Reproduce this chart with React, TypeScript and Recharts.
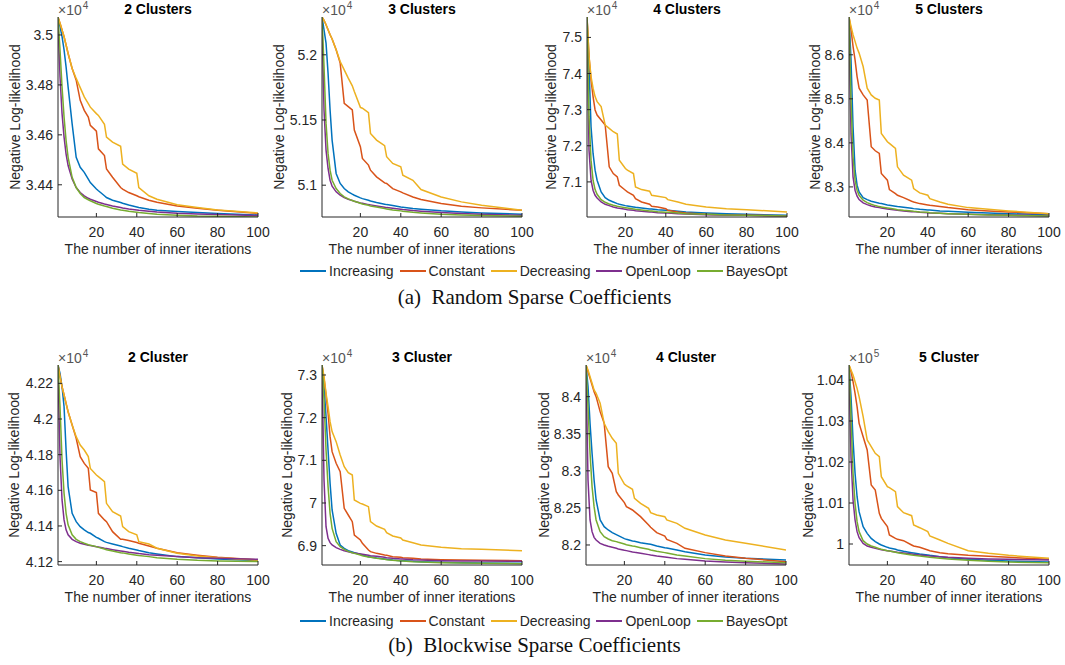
import React from 'react';
import { LineChart, Line, XAxis, YAxis } from 'recharts';

// ---------- shared data ----------
const X = [1, 2, 3, 4, 5, 6, 8, 10, 12, 14, 16, 17, 20, 21, 24, 25, 28, 32, 33, 36, 40, 41, 46, 50, 60, 70, 80, 100];
const X_TICKS = [20, 40, 60, 80, 100];
const SERIES_NAMES = ['Increasing', 'Constant', 'Decreasing', 'OpenLoop', 'BayesOpt'];
const COLORS = ['#0072BD', '#D95319', '#EDB120', '#7E2F8E', '#77AC30'];

// ---------- (a) Random Sparse Coefficients ----------
// 2 Clusters (x1e4)
const rs2Inc = [3.5071, 3.5034, 3.4993, 3.4940, 3.4872, 3.4792, 3.4644, 3.4510, 3.4470, 3.4450, 3.4423, 3.4409, 3.4383, 3.4376, 3.4356, 3.4349, 3.4338, 3.4329, 3.4326, 3.4319, 3.4311, 3.4309, 3.4302, 3.4298, 3.4293, 3.4289, 3.4285, 3.4279];
const rs2Con = [3.5071, 3.5047, 3.5020, 3.4993, 3.4960, 3.4926, 3.4866, 3.4819, 3.4738, 3.4698, 3.4671, 3.4638, 3.4615, 3.4544, 3.4517, 3.4463, 3.4430, 3.4389, 3.4383, 3.4369, 3.4356, 3.4352, 3.4338, 3.4330, 3.4315, 3.4306, 3.4298, 3.4285];
const rs2Dec = [3.5071, 3.5047, 3.5020, 3.4993, 3.4960, 3.4926, 3.4866, 3.4826, 3.4789, 3.4752, 3.4725, 3.4711, 3.4685, 3.4678, 3.4642, 3.4591, 3.4571, 3.4554, 3.4483, 3.4463, 3.4446, 3.4389, 3.4356, 3.4342, 3.4320, 3.4309, 3.4299, 3.4287];
const rs2Open = [3.5060, 3.4832, 3.4685, 3.4591, 3.4523, 3.4477, 3.4423, 3.4389, 3.4369, 3.4356, 3.4346, 3.4342, 3.4333, 3.4330, 3.4323, 3.4321, 3.4315, 3.4309, 3.4307, 3.4303, 3.4299, 3.4298, 3.4294, 3.4291, 3.4286, 3.4283, 3.4281, 3.4277];
const rs2Bayes = [3.5071, 3.4940, 3.4792, 3.4671, 3.4577, 3.4510, 3.4430, 3.4389, 3.4365, 3.4349, 3.4340, 3.4336, 3.4325, 3.4322, 3.4315, 3.4313, 3.4306, 3.4299, 3.4298, 3.4294, 3.4290, 3.4289, 3.4285, 3.4282, 3.4278, 3.4275, 3.4274, 3.4271];

// 3 Clusters (x1e4)
const rs3Inc = [5.2290, 5.2192, 5.2090, 5.1859, 5.1577, 5.1346, 5.1090, 5.1013, 5.0974, 5.0949, 5.0931, 5.0923, 5.0903, 5.0897, 5.0885, 5.0879, 5.0867, 5.0854, 5.0851, 5.0844, 5.0833, 5.0831, 5.0821, 5.0815, 5.0803, 5.0795, 5.0787, 5.0777];
const rs3Con = [5.2290, 5.2264, 5.2231, 5.2192, 5.2154, 5.2121, 5.2038, 5.1936, 5.1628, 5.1603, 5.1577, 5.1423, 5.1295, 5.1205, 5.1154, 5.1115, 5.1064, 5.1018, 5.1013, 5.0974, 5.0949, 5.0941, 5.0910, 5.0890, 5.0859, 5.0838, 5.0826, 5.0808];
const rs3Dec = [5.2290, 5.2264, 5.2231, 5.2192, 5.2154, 5.2121, 5.2038, 5.1949, 5.1885, 5.1821, 5.1762, 5.1718, 5.1597, 5.1590, 5.1556, 5.1397, 5.1346, 5.1303, 5.1218, 5.1167, 5.1141, 5.1077, 5.1038, 5.0967, 5.0910, 5.0872, 5.0846, 5.0808];
const rs3Open = [5.2269, 5.1577, 5.1269, 5.1128, 5.1038, 5.0992, 5.0949, 5.0923, 5.0905, 5.0892, 5.0882, 5.0877, 5.0864, 5.0862, 5.0851, 5.0849, 5.0841, 5.0831, 5.0828, 5.0823, 5.0815, 5.0813, 5.0805, 5.0800, 5.0790, 5.0782, 5.0777, 5.0769];
const rs3Bayes = [5.2290, 5.1910, 5.1474, 5.1244, 5.1115, 5.1038, 5.0974, 5.0936, 5.0910, 5.0895, 5.0882, 5.0877, 5.0862, 5.0856, 5.0846, 5.0841, 5.0833, 5.0821, 5.0818, 5.0810, 5.0803, 5.0800, 5.0792, 5.0787, 5.0777, 5.0772, 5.0767, 5.0762];

// 4 Clusters (x1e4)
const rs4Inc = [7.5565, 7.4194, 7.2528, 7.1787, 7.1324, 7.1046, 7.0722, 7.0565, 7.0491, 7.0444, 7.0398, 7.0380, 7.0343, 7.0333, 7.0306, 7.0296, 7.0278, 7.0250, 7.0250, 7.0231, 7.0213, 7.0213, 7.0185, 7.0167, 7.0139, 7.0120, 7.0102, 7.0074];
const rs4Con = [7.5565, 7.4472, 7.3824, 7.3361, 7.2991, 7.2852, 7.2713, 7.2574, 7.1417, 7.1231, 7.1139, 7.0907, 7.0769, 7.0722, 7.0630, 7.0537, 7.0444, 7.0380, 7.0324, 7.0306, 7.0259, 7.0213, 7.0167, 7.0139, 7.0102, 7.0083, 7.0074, 7.0065];
const rs4Dec = [7.5565, 7.4472, 7.3917, 7.3593, 7.3361, 7.3222, 7.3083, 7.2574, 7.2481, 7.2389, 7.2324, 7.1602, 7.1370, 7.1324, 7.1231, 7.0861, 7.0787, 7.0741, 7.0630, 7.0602, 7.0565, 7.0509, 7.0444, 7.0380, 7.0306, 7.0259, 7.0231, 7.0167];
const rs4Open = [7.5491, 7.1880, 7.1046, 7.0769, 7.0630, 7.0556, 7.0444, 7.0380, 7.0343, 7.0306, 7.0278, 7.0269, 7.0241, 7.0231, 7.0213, 7.0204, 7.0185, 7.0167, 7.0167, 7.0148, 7.0139, 7.0139, 7.0120, 7.0111, 7.0093, 7.0083, 7.0074, 7.0056];
const rs4Bayes = [7.5565, 7.2806, 7.1602, 7.1046, 7.0787, 7.0657, 7.0509, 7.0435, 7.0389, 7.0352, 7.0324, 7.0315, 7.0287, 7.0278, 7.0250, 7.0241, 7.0222, 7.0194, 7.0194, 7.0176, 7.0157, 7.0157, 7.0139, 7.0120, 7.0102, 7.0083, 7.0074, 7.0056];

// 5 Clusters (x1e4)
const rs5Inc = [8.6858, 8.5886, 8.4367, 8.3380, 8.3039, 8.2887, 8.2758, 8.2712, 8.2674, 8.2651, 8.2629, 8.2621, 8.2591, 8.2583, 8.2560, 8.2553, 8.2537, 8.2515, 8.2507, 8.2492, 8.2477, 8.2477, 8.2454, 8.2446, 8.2424, 8.2408, 8.2393, 8.2370];
const rs5Con = [8.6858, 8.6569, 8.6190, 8.5886, 8.5506, 8.5241, 8.5089, 8.4975, 8.3912, 8.3821, 8.3760, 8.3304, 8.3153, 8.2940, 8.2849, 8.2811, 8.2758, 8.2674, 8.2659, 8.2621, 8.2591, 8.2583, 8.2553, 8.2530, 8.2484, 8.2454, 8.2431, 8.2393];
const rs5Dec = [8.6858, 8.6646, 8.6456, 8.6304, 8.6152, 8.6038, 8.5734, 8.5241, 8.5089, 8.5013, 8.4975, 8.4215, 8.4026, 8.3988, 8.3874, 8.3456, 8.3267, 8.3153, 8.2963, 8.2864, 8.2811, 8.2735, 8.2659, 8.2606, 8.2530, 8.2492, 8.2454, 8.2393];
const rs5Open = [8.6797, 8.4215, 8.3229, 8.2925, 8.2788, 8.2712, 8.2636, 8.2598, 8.2568, 8.2545, 8.2530, 8.2522, 8.2500, 8.2492, 8.2477, 8.2469, 8.2454, 8.2439, 8.2439, 8.2424, 8.2416, 8.2408, 8.2401, 8.2393, 8.2378, 8.2370, 8.2363, 8.2347];
const rs5Bayes = [8.6858, 8.4975, 8.3684, 8.3153, 8.2925, 8.2811, 8.2697, 8.2644, 8.2606, 8.2576, 8.2553, 8.2545, 8.2522, 8.2515, 8.2492, 8.2484, 8.2469, 8.2454, 8.2446, 8.2431, 8.2424, 8.2416, 8.2401, 8.2393, 8.2378, 8.2363, 8.2355, 8.2340];

// ---------- (b) Blockwise Sparse Coefficients ----------
// 2 Cluster (x1e4)
const bs2Inc = [4.2303, 4.2256, 4.2181, 4.2069, 4.1826, 4.1621, 4.1471, 4.1424, 4.1396, 4.1378, 4.1363, 4.1359, 4.1336, 4.1331, 4.1312, 4.1308, 4.1299, 4.1288, 4.1284, 4.1275, 4.1265, 4.1262, 4.1250, 4.1243, 4.1228, 4.1221, 4.1215, 4.1206];
const bs2Con = [4.2303, 4.2237, 4.2181, 4.2135, 4.2088, 4.2041, 4.1966, 4.1892, 4.1789, 4.1751, 4.1723, 4.1602, 4.1587, 4.1471, 4.1434, 4.1424, 4.1368, 4.1325, 4.1325, 4.1318, 4.1307, 4.1303, 4.1288, 4.1275, 4.1250, 4.1236, 4.1224, 4.1209];
const bs2Dec = [4.2303, 4.2237, 4.2181, 4.2135, 4.2088, 4.2041, 4.1966, 4.1901, 4.1854, 4.1826, 4.1789, 4.1723, 4.1686, 4.1677, 4.1649, 4.1527, 4.1480, 4.1456, 4.1396, 4.1368, 4.1350, 4.1312, 4.1299, 4.1275, 4.1247, 4.1232, 4.1222, 4.1209];
const bs2Open = [4.2284, 4.1789, 4.1546, 4.1434, 4.1378, 4.1350, 4.1325, 4.1312, 4.1303, 4.1297, 4.1292, 4.1290, 4.1284, 4.1282, 4.1275, 4.1273, 4.1267, 4.1260, 4.1258, 4.1252, 4.1247, 4.1245, 4.1239, 4.1236, 4.1228, 4.1222, 4.1219, 4.1213];
const bs2Bayes = [4.2303, 4.2069, 4.1770, 4.1583, 4.1471, 4.1406, 4.1350, 4.1325, 4.1312, 4.1303, 4.1295, 4.1292, 4.1284, 4.1280, 4.1271, 4.1267, 4.1260, 4.1250, 4.1249, 4.1243, 4.1236, 4.1234, 4.1228, 4.1222, 4.1213, 4.1207, 4.1204, 4.1200];

// 3 Cluster (x1e4)
const bs3Inc = [7.3234, 7.2727, 7.2023, 7.1242, 7.0461, 6.9836, 6.9289, 6.9016, 6.8938, 6.8883, 6.8852, 6.8836, 6.8797, 6.8781, 6.8742, 6.8734, 6.8711, 6.8688, 6.8680, 6.8664, 6.8648, 6.8648, 6.8633, 6.8625, 6.8609, 6.8602, 6.8594, 6.8586];
const bs3Con = [7.3234, 7.2922, 7.2531, 7.2102, 7.1555, 7.1203, 7.0930, 7.0734, 6.9875, 6.9719, 6.9563, 6.9250, 6.9133, 6.9055, 6.8898, 6.8859, 6.8820, 6.8781, 6.8773, 6.8742, 6.8727, 6.8719, 6.8703, 6.8688, 6.8672, 6.8664, 6.8656, 6.8648];
const bs3Dec = [7.3234, 7.2961, 7.2570, 7.2258, 7.1906, 7.1672, 7.1438, 7.1125, 7.0852, 7.0711, 7.0656, 7.0070, 6.9992, 6.9977, 6.9914, 6.9563, 6.9461, 6.9383, 6.9305, 6.9227, 6.9180, 6.9133, 6.9070, 6.9016, 6.8961, 6.8930, 6.8914, 6.8883];
const bs3Open = [7.3195, 7.0539, 6.9445, 6.9172, 6.9070, 6.9016, 6.8953, 6.8914, 6.8883, 6.8859, 6.8836, 6.8828, 6.8805, 6.8797, 6.8773, 6.8766, 6.8750, 6.8727, 6.8719, 6.8703, 6.8688, 6.8688, 6.8672, 6.8664, 6.8648, 6.8641, 6.8641, 6.8633];
const bs3Bayes = [7.3234, 7.2414, 7.1242, 7.0383, 6.9758, 6.9406, 6.9094, 6.8977, 6.8914, 6.8867, 6.8836, 6.8820, 6.8781, 6.8766, 6.8734, 6.8727, 6.8703, 6.8680, 6.8672, 6.8656, 6.8641, 6.8641, 6.8625, 6.8617, 6.8602, 6.8594, 6.8586, 6.8578];

// 4 Cluster (x1e4)
const bs4Inc = [8.4427, 8.4135, 8.3640, 8.3236, 8.2876, 8.2607, 8.2337, 8.2247, 8.2202, 8.2166, 8.2139, 8.2126, 8.2085, 8.2076, 8.2054, 8.2049, 8.2031, 8.2013, 8.2009, 8.1987, 8.1964, 8.1960, 8.1933, 8.1910, 8.1865, 8.1838, 8.1820, 8.1798];
const bs4Con = [8.4427, 8.4337, 8.4247, 8.4157, 8.4067, 8.4000, 8.3798, 8.3640, 8.3056, 8.2966, 8.2719, 8.2674, 8.2571, 8.2517, 8.2472, 8.2449, 8.2382, 8.2270, 8.2238, 8.2166, 8.2121, 8.2076, 8.2022, 8.1955, 8.1897, 8.1852, 8.1820, 8.1775];
const bs4Dec = [8.4427, 8.4360, 8.4270, 8.4180, 8.4090, 8.4045, 8.3910, 8.3640, 8.3528, 8.3438, 8.3371, 8.2966, 8.2822, 8.2800, 8.2751, 8.2629, 8.2562, 8.2494, 8.2436, 8.2404, 8.2382, 8.2337, 8.2292, 8.2225, 8.2135, 8.2067, 8.2022, 8.1933];
const bs4Open = [8.4404, 8.2876, 8.2337, 8.2180, 8.2103, 8.2067, 8.2022, 8.2000, 8.1982, 8.1969, 8.1955, 8.1946, 8.1928, 8.1924, 8.1906, 8.1901, 8.1888, 8.1870, 8.1865, 8.1852, 8.1838, 8.1834, 8.1816, 8.1807, 8.1784, 8.1771, 8.1762, 8.1744];
const bs4Bayes = [8.4427, 8.3865, 8.3236, 8.2787, 8.2517, 8.2337, 8.2180, 8.2112, 8.2081, 8.2058, 8.2045, 8.2036, 8.2013, 8.2004, 8.1987, 8.1982, 8.1964, 8.1942, 8.1933, 8.1915, 8.1897, 8.1892, 8.1865, 8.1852, 8.1816, 8.1793, 8.1780, 8.1762];

// 5 Cluster (x1e5)
const bs5Inc = [1.04366, 1.03593, 1.02537, 1.01724, 1.01154, 1.00789, 1.00423, 1.00260, 1.00138, 1.00057, 1.00000, 0.99976, 0.99919, 0.99902, 0.99870, 0.99854, 0.99821, 0.99789, 0.99780, 0.99756, 0.99732, 0.99724, 0.99691, 0.99667, 0.99626, 0.99602, 0.99585, 0.99561];
const bs5Con = [1.04366, 1.04203, 1.03959, 1.03675, 1.03350, 1.02943, 1.02618, 1.02293, 1.01439, 1.01317, 1.00748, 1.00626, 1.00423, 1.00220, 1.00138, 1.00114, 1.00081, 0.99976, 0.99951, 0.99919, 0.99854, 0.99837, 0.99789, 0.99764, 0.99724, 0.99699, 0.99675, 0.99626];
const bs5Dec = [1.04366, 1.04244, 1.04122, 1.03959, 1.03797, 1.03593, 1.03106, 1.02537, 1.02374, 1.02211, 1.02130, 1.01642, 1.01398, 1.01374, 1.01276, 1.00911, 1.00764, 1.00691, 1.00463, 1.00398, 1.00301, 1.00195, 1.00098, 1.00016, 0.99837, 0.99772, 0.99724, 0.99650];
const bs5Open = [1.04325, 1.02130, 1.01073, 1.00585, 1.00301, 1.00154, 1.00016, 0.99951, 0.99919, 0.99894, 0.99870, 0.99862, 0.99837, 0.99829, 0.99805, 0.99797, 0.99780, 0.99756, 0.99748, 0.99732, 0.99715, 0.99707, 0.99691, 0.99675, 0.99650, 0.99634, 0.99626, 0.99610];
const bs5Bayes = [1.04366, 1.03106, 1.01724, 1.00992, 1.00545, 1.00301, 1.00081, 1.00000, 0.99951, 0.99919, 0.99886, 0.99870, 0.99837, 0.99829, 0.99797, 0.99789, 0.99764, 0.99732, 0.99724, 0.99707, 0.99683, 0.99675, 0.99650, 0.99634, 0.99602, 0.99577, 0.99561, 0.99545];

// tick labels
const rs2Ticks = [3.44, 3.46, 3.48, 3.5];
const rs3Ticks = [5.1, 5.15, 5.2];
const rs4Ticks = [7.1, 7.2, 7.3, 7.4, 7.5];
const rs5Ticks = [8.3, 8.4, 8.5, 8.6];
const bs2Ticks = [4.12, 4.14, 4.16, 4.18, 4.2, 4.22];
const bs3Ticks = [6.9, 7, 7.1, 7.2, 7.3];
const bs4Ticks = [8.2, 8.25, 8.3, 8.35, 8.4];
const bs5Ticks = [1, 1.01, 1.02, 1.03, 1.04];

// ---------- layout ----------
const AX = '#262626';
const FONT = '"Liberation Sans", Arial, Helvetica, sans-serif';
const PW = 200;
const PH = 200;
const ML = 60;
const MT = 20;
const MR = 24;

const panels = [
  { title: '2 Clusters', exp: '4', left: 58, top: 17, domain: [3.4271, 3.5072], ticks: rs2Ticks, series: [rs2Inc, rs2Con, rs2Dec, rs2Open, rs2Bayes], ylx: 15 },
  { title: '3 Clusters', exp: '4', left: 322, top: 17, domain: [5.0756, 5.2290], ticks: rs3Ticks, series: [rs3Inc, rs3Con, rs3Dec, rs3Open, rs3Bayes], ylx: 279 },
  { title: '4 Clusters', exp: '4', left: 587, top: 17, domain: [7.0028, 7.5565], ticks: rs4Ticks, series: [rs4Inc, rs4Con, rs4Dec, rs4Open, rs4Bayes], ylx: 551 },
  { title: '5 Clusters', exp: '4', left: 849, top: 17, domain: [8.2317, 8.6858], ticks: rs5Ticks, series: [rs5Inc, rs5Con, rs5Dec, rs5Open, rs5Bayes], ylx: 815 },
  { title: '2 Cluster', exp: '4', left: 58, top: 365, domain: [4.1181, 4.2303], ticks: bs2Ticks, series: [bs2Inc, bs2Con, bs2Dec, bs2Open, bs2Bayes], ylx: 14 },
  { title: '3 Cluster', exp: '4', left: 322, top: 365, domain: [6.8547, 7.3234], ticks: bs3Ticks, series: [bs3Inc, bs3Con, bs3Dec, bs3Open, bs3Bayes], ylx: 287 },
  { title: '4 Cluster', exp: '4', left: 586, top: 365, domain: [8.1730, 8.4427], ticks: bs4Ticks, series: [bs4Inc, bs4Con, bs4Dec, bs4Open, bs4Bayes], ylx: 544 },
  { title: '5 Cluster', exp: '5', left: 849, top: 365, domain: [0.99488, 1.04366], ticks: bs5Ticks, series: [bs5Inc, bs5Con, bs5Dec, bs5Open, bs5Bayes], ylx: 808 },
];

const fmt = (v: number) => String(parseFloat(Number(v).toFixed(4)));

const LeftTick = (p: any) => (
  <g>
    <line x1={p.x} x2={p.x + 4} y1={p.y} y2={p.y} stroke={AX} strokeWidth={1} />
    <text x={p.x - 5} y={p.y + 5} textAnchor="end" fontSize={14} fill={AX} fontFamily={FONT}>
      {fmt(p.payload.value)}
    </text>
  </g>
);
const RightTick = (p: any) => (
  <line x1={p.x} x2={p.x - 4} y1={p.y} y2={p.y} stroke={AX} strokeWidth={1} />
);
const BottomTick = (p: any) => (
  <g>
    <line x1={p.x} x2={p.x} y1={p.y} y2={p.y - 4} stroke={AX} strokeWidth={1} />
    <text x={p.x} y={p.y + 20} textAnchor="middle" fontSize={14} fill={AX} fontFamily={FONT}>
      {fmt(p.payload.value)}
    </text>
  </g>
);
const TopTick = (p: any) => (
  <line x1={p.x} x2={p.x} y1={p.y} y2={p.y + 4} stroke={AX} strokeWidth={1} />
);

function Panel({ p }: { p: any }) {
  const data = X.map((x, i) => {
    const row: any = { x };
    p.series.forEach((s: number[], j: number) => {
      row['s' + j] = s[i];
    });
    return row;
  });
  const cx = p.left + PW / 2;
  return (
    <>
      <div style={{ position: 'absolute', left: p.left - ML, top: p.top - MT }}>
        <LineChart width={ML + PW + MR} height={MT + PH + 40} data={data} margin={{ top: MT, right: MR, bottom: 0, left: 0 }}>
          <XAxis dataKey="x" type="number" domain={[1, 100]} ticks={X_TICKS} interval={0} allowDataOverflow height={40}
            tickSize={0} tickMargin={0} tickLine={false} stroke={AX} tick={BottomTick} />
          <XAxis xAxisId="t" orientation="top" dataKey="x" type="number" domain={[1, 100]} ticks={X_TICKS} interval={0}
            allowDataOverflow height={0} tickSize={0} tickMargin={0} tickLine={false} stroke={AX} tick={TopTick} />
          <YAxis type="number" domain={p.domain} ticks={p.ticks} interval={0} allowDataOverflow width={ML}
            tickSize={0} tickMargin={0} tickLine={false} stroke={AX} tick={LeftTick} />
          <YAxis yAxisId="r" orientation="right" type="number" domain={p.domain} ticks={p.ticks} interval={0}
            allowDataOverflow width={0} tickSize={0} tickMargin={0} tickLine={false} stroke={AX} tick={RightTick} />
          {p.series.map((_: number[], j: number) => (
            <Line key={j} type="linear" dataKey={'s' + j} stroke={COLORS[j]} strokeWidth={1.5} dot={false}
              activeDot={false} isAnimationActive={false} />
          ))}
        </LineChart>
      </div>
      {/* title */}
      <div style={{ position: 'absolute', left: cx - 100, width: 200, top: p.top - 16, height: 16, lineHeight: '16px',
        textAlign: 'center', fontWeight: 'bold', fontSize: 14, color: '#000', fontFamily: FONT }}>{p.title}</div>
      {/* exponent */}
      <div style={{ position: 'absolute', left: p.left, top: p.top - 14, height: 14, lineHeight: '14px',
        fontSize: 14, color: '#555', fontFamily: FONT, whiteSpace: 'nowrap' }}>
        ×10<span style={{ fontSize: 10, position: 'relative', top: -6, marginLeft: 1 }}>{p.exp}</span>
      </div>
      {/* y label */}
      <div style={{ position: 'absolute', left: p.ylx - 100, top: p.top + PH / 2 - 8, width: 200, height: 16,
        lineHeight: '16px', textAlign: 'center', fontSize: 14, color: AX, fontFamily: FONT,
        transform: 'rotate(-90deg)', transformOrigin: '50% 50%', whiteSpace: 'nowrap' }}>Negative Log-likelihood</div>
      {/* x label */}
      <div style={{ position: 'absolute', left: cx - 110, width: 220, top: p.top + PH + 24, height: 16,
        lineHeight: '16px', textAlign: 'center', fontSize: 14, color: AX, fontFamily: FONT, whiteSpace: 'nowrap' }}>
        The number of inner iterations</div>
    </>
  );
}

function Legend({ top }: { top: number }) {
  return (
    <div style={{ position: 'absolute', left: 300, top: top - 9, height: 18, display: 'flex', alignItems: 'center',
      fontFamily: FONT, fontSize: 14, color: AX, whiteSpace: 'nowrap' }}>
      {SERIES_NAMES.map((n, i) => (
        <div key={n} style={{ display: 'flex', alignItems: 'center', marginRight: 6 }}>
          <div style={{ width: 26, height: 1.5, background: COLORS[i], marginRight: 3 }} />
          <span>{n}</span>
        </div>
      ))}
    </div>
  );
}

function Caption({ top, text }: { top: number; text: string }) {
  return (
    <div style={{ position: 'absolute', left: 0, width: 1069, top: top - 13, height: 26, lineHeight: '26px',
      textAlign: 'center', fontFamily: '"Liberation Serif", "Times New Roman", serif', fontSize: 21, color: '#111',
      whiteSpace: 'pre' }}>{text}</div>
  );
}

export default function App() {
  return (
    <div style={{ position: 'absolute', left: 0, top: 0, width: 1065, height: 665, background: '#fff', overflow: 'hidden' }}>
      {panels.map((p, i) => <Panel key={i} p={p} />)}
      <Legend top={271} />
      <Legend top={621} />
      <Caption top={297} text={'(a)  Random Sparse Coefficients'} />
      <Caption top={645} text={'(b)  Blockwise Sparse Coefficients'} />
    </div>
  );
}
